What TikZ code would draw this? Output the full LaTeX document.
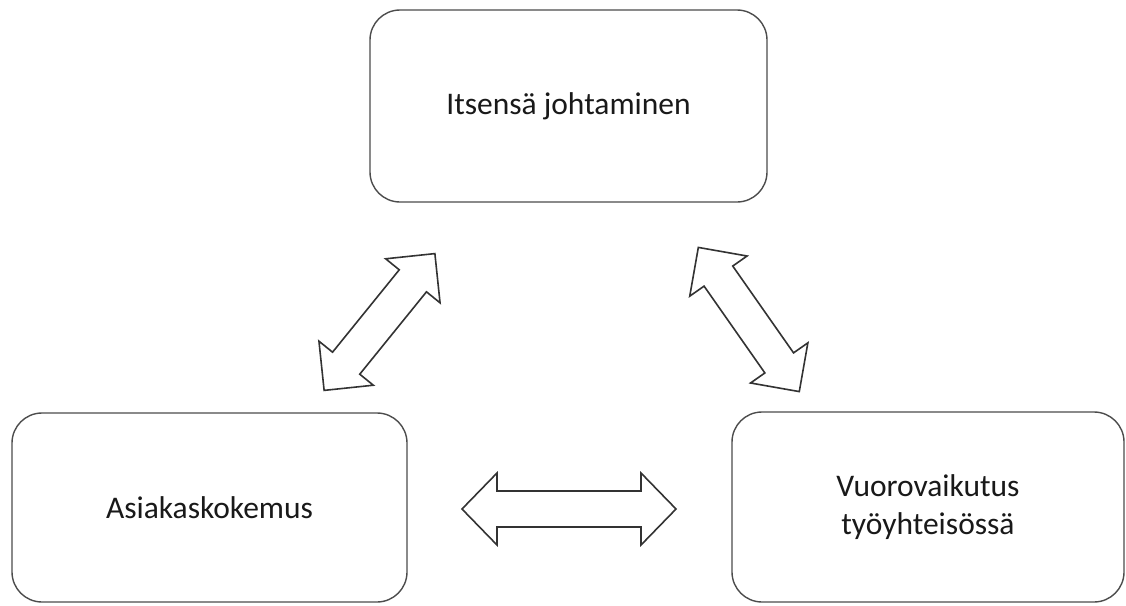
\documentclass[tikz,border=0pt]{standalone}
\usepackage{fontspec}
\setmainfont{Carlito}
\begin{document}
\begin{tikzpicture}[x=1pt,y=-1pt,
  box/.style={draw=black!70, line width=1.4pt, rounded corners=30pt, fill=white,
    align=center, inner sep=0pt, font=\fontsize{31.5}{38}\selectfont, text=black!90},
  blockarrow/.style={draw=black!80, line width=1.6pt, fill=white, line join=miter}]
\useasboundingbox (0,0) rectangle (1126,605);
\node[box, minimum width=397pt, minimum height=192pt] (top) at (568.5,106) {Itsensä johtaminen};
\node[box, minimum width=395pt, minimum height=189pt] (left) at (209.5,507.5) {Asiakaskokemus};
\node[box, minimum width=392pt, minimum height=190pt] (right) at (928,507) {Vuorovaikutus\\työyhteisössä};
% horizontal double arrow
\begin{scope}[shift={(569,509)}]
  \draw[blockarrow] (-107,0) -- (-72,-36) -- (-72,-18) -- (72,-18) -- (72,-36) -- (107,0)
    -- (72,36) -- (72,18) -- (-72,18) -- (-72,36) -- cycle;
\end{scope}
% left diagonal double arrow
\begin{scope}[shift={(379.5,322)}, rotate=51]
  \draw[blockarrow] (-88,0) -- (-53,-35) -- (-53,-17.5) -- (53,-17.5) -- (53,-35) -- (88,0)
    -- (53,35) -- (53,17.5) -- (-53,17.5) -- (-53,35) -- cycle;
\end{scope}
% right diagonal double arrow
\begin{scope}[shift={(748.8,319.5)}, rotate=-55]
  \draw[blockarrow] (-88,0) -- (-53,-35) -- (-53,-17.5) -- (53,-17.5) -- (53,-35) -- (88,0)
    -- (53,35) -- (53,17.5) -- (-53,17.5) -- (-53,35) -- cycle;
\end{scope}
\end{tikzpicture}
\end{document}
